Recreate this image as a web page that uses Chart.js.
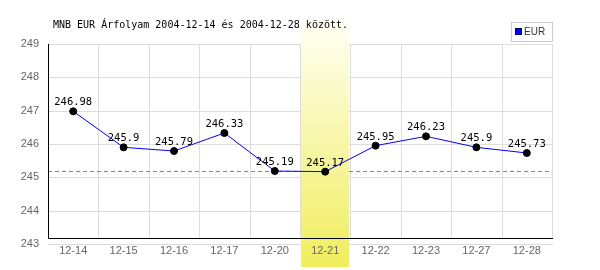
<!DOCTYPE html>
<html><head><meta charset="utf-8">
<script src="https://cdn.jsdelivr.net/npm/chart.js@4.4.1/dist/chart.umd.min.js"></script>
<style>html,body{margin:0;padding:0;background:#fff}#wrap{width:600px;height:270px}</style>
</head><body><div id="wrap"><canvas id="c" width="600" height="270"></canvas></div>
<script>
const categories = ["12-14","12-15","12-16","12-17","12-20","12-21","12-22","12-23","12-27","12-28"];
const eurValues = [246.98,245.9,245.79,246.33,245.19,245.17,245.95,246.23,245.9,245.73];
const yTicks = [243,244,245,246,247,248,249];
const highlightCategory = "12-21";
const seriesName = "EUR";
const titleText = "MNB EUR Árfolyam 2004-12-14 és 2004-12-28 között.";

const minValue = Math.min(...eurValues);

const deco = {
  id: 'deco',
  beforeDraw(chart) {
    const ctx = chart.ctx, a = chart.chartArea, x = chart.scales.x, y = chart.scales.y;
    const step = x.getPixelForValue(1) - x.getPixelForValue(0);
    ctx.save();
    ctx.strokeStyle = '#dddddd'; ctx.lineWidth = 1;
    yTicks.forEach(v => {
      const py = Math.round(y.getPixelForValue(v)) + 0.5;
      ctx.beginPath(); ctx.moveTo(a.left, py); ctx.lineTo(a.right + 1, py); ctx.stroke();
    });
    for (let i = 0; i <= categories.length; i++) {
      const px = Math.round(x.getPixelForValue(i) - step / 2) + 0.5;
      ctx.beginPath(); ctx.moveTo(px, a.top); ctx.lineTo(px, a.bottom - 6); ctx.stroke();
    }
    const my = Math.round(y.getPixelForValue(minValue)) - 0.5;
    ctx.strokeStyle = '#7878ff'; ctx.setLineDash([4, 3]);
    ctx.beginPath(); ctx.moveTo(a.left, my); ctx.lineTo(a.right, my); ctx.stroke();
    ctx.setLineDash([]);
    const hi = categories.indexOf(highlightCategory);
    const bx0 = Math.round(x.getPixelForValue(hi) - step / 2) + 1;
    const bx1 = Math.round(x.getPixelForValue(hi) + step / 2) - 1;
    const g = ctx.createLinearGradient(0, 20, 0, 267);
    g.addColorStop(0, '#fffff4');
    g.addColorStop(1, '#f0ee5c');
    ctx.fillStyle = g;
    ctx.fillRect(bx0, 20, bx1 - bx0, 247);
    ctx.fillStyle = '#000';
    ctx.font = '10px "DejaVu Sans Mono", monospace';
    ctx.textBaseline = 'middle'; ctx.textAlign = 'left';
    ctx.fillText(titleText, 53, 25);
    ctx.strokeStyle = '#cccccc';
    ctx.strokeRect(511.5, 22.5, 41, 19);
    ctx.fillStyle = '#0000ff';
    ctx.fillRect(515, 28, 7, 7);
    ctx.strokeStyle = '#000066';
    ctx.strokeRect(515.5, 28.5, 6, 6);
    ctx.fillStyle = '#333';
    ctx.font = '10px "Liberation Sans", Arial, sans-serif';
    ctx.fillText(seriesName, 524, 32);
    ctx.restore();
  },
  beforeDatasetsDraw(chart) {
    const ctx = chart.ctx, a = chart.chartArea;
    ctx.save();
    ctx.strokeStyle = '#000'; ctx.lineWidth = 1;
    const by = Math.round(a.bottom - 6) + 0.5;
    ctx.beginPath(); ctx.moveTo(a.left + 0.5, a.top); ctx.lineTo(a.left + 0.5, by); ctx.lineTo(a.right + 1, by); ctx.stroke();
    ctx.restore();
  },
  afterDatasetsDraw(chart) {
    const ctx = chart.ctx, meta = chart.getDatasetMeta(0);
    ctx.save();
    ctx.fillStyle = '#000';
    ctx.font = '10.5px "DejaVu Sans Mono", monospace';
    ctx.textAlign = 'center'; ctx.textBaseline = 'alphabetic';
    meta.data.forEach((pt, i) => {
      ctx.fillText(String(eurValues[i]), pt.x, pt.y - 6);
    });
    ctx.restore();
  }
};

new Chart(document.getElementById('c'), {
  type: 'line',
  data: {
    labels: categories,
    datasets: [{
      label: seriesName,
      data: eurValues,
      borderColor: '#0000ff',
      borderWidth: 1,
      pointBackgroundColor: '#000',
      pointBorderColor: '#000',
      pointRadius: 3.5,
      pointBorderWidth: 1,
      tension: 0,
      fill: false
    }]
  },
  options: {
    responsive: false,
    animation: false,
    devicePixelRatio: 1,
    layout: { padding: { top: 44, right: 48, left: 0, bottom: 0 } },
    plugins: { legend: { display: false }, title: { display: false }, tooltip: { enabled: false } },
    scales: {
      x: {
        offset: true,
        grid: { display: false, drawTicks: false, tickLength: 0 },
        border: { display: false },
        ticks: { color: '#666', font: { family: '"Liberation Sans", Arial, sans-serif', size: 11 }, padding: 0, maxRotation: 0, autoSkip: false },
        afterFit(s) { s.height = 26; }
      },
      y: {
        min: 243, max: 249,
        grid: { display: false, drawTicks: false, tickLength: 0 },
        border: { display: false },
        afterBuildTicks(s) { s.ticks = yTicks.map(v => ({ value: v })); },
        ticks: { color: '#666', font: { family: '"Liberation Sans", Arial, sans-serif', size: 11 }, padding: 9 },
        afterFit(s) { s.width = 48; }
      }
    }
  },
  plugins: [deco]
});
</script></body></html>
